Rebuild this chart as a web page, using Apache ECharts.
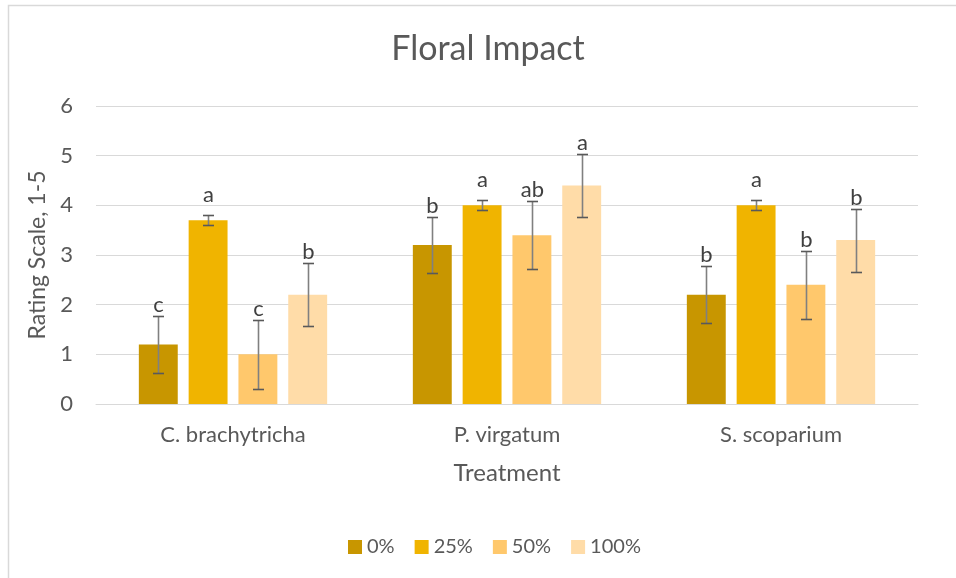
<!DOCTYPE html>
<html>
<head>
<meta charset="utf-8">
<script src="https://cdn.jsdelivr.net/npm/echarts@6/dist/echarts.min.js"></script>
<style>
  html, body { margin: 0; padding: 0; background: #ffffff; }
  #chart { width: 956px; height: 578px; }
</style>
</head>
<body>
<div id="chart"></div>
<script>
// Treatment groups along the x axis
const categories = ['C. brachytricha', 'P. virgatum', 'S. scoparium'];
const seriesNames = ['0%', '25%', '50%', '100%'];

// Mean ratings per group for each treatment level
const means0 = [1.2, 3.2, 2.2];
const means25 = [3.7, 4.0, 4.0];
const means50 = [1.0, 3.4, 2.4];
const means100 = [2.2, 4.4, 3.3];

// Error bar half-lengths
const err0 = [0.57, 0.57, 0.57];
const err25 = [0.1, 0.1, 0.1];
const err50 = [0.7, 0.69, 0.69];
const err100 = [0.635, 0.64, 0.635];

// Significance letters above each bar
const letters0 = ['c', 'b', 'b'];
const letters25 = ['a', 'a', 'a'];
const letters50 = ['c', 'ab', 'b'];
const letters100 = ['b', 'a', 'b'];

const yTicks = [0, 1, 2, 3, 4, 5, 6];

const colors = ['#C89600', '#F0B400', '#FFC86C', '#FFDCA8'];
const allMeans = [means0, means25, means50, means100];
const allErrs = [err0, err25, err50, err100];
const allLetters = [letters0, letters25, letters50, letters100];

const FONT = 'Lato, "Open Sans", sans-serif';
const TEXT = '#595959';
const BAR_FRAC = 0.142;  // bar width as share of the category band
const GAP_FRAC = 0.28;   // gap between bars as share of bar width

const chart = echarts.init(document.getElementById('chart'), null, { renderer: 'canvas' });

const barSeries = seriesNames.map((name, i) => ({
  name: name,
  type: 'bar',
  data: allMeans[i],
  barWidth: (BAR_FRAC * 100) + '%',
  barGap: (GAP_FRAC * 100) + '%',
  itemStyle: { color: colors[i] },
  emphasis: { disabled: true },
  z: 2
}));

// One record per bar: [category index, mean, error, series index]
const errData = [];
for (let s = 0; s < seriesNames.length; s++) {
  for (let c = 0; c < categories.length; c++) {
    errData.push([c, allMeans[s][c], allErrs[s][c], s]);
  }
}

function renderErr(params, api) {
  const ci = api.value(0);
  const m = api.value(1);
  const sd = api.value(2);
  const si = api.value(3);
  const band = api.size([1, 0])[0];
  const bw = band * BAR_FRAC;
  const pitch = bw * (1 + GAP_FRAC);
  const cx = Math.round(api.coord([ci, 0])[0] + (si - 1.5) * pitch) + 0.5;
  const yTop = Math.round(api.coord([ci, m + sd])[1]) + 0.5;
  const yBot = Math.round(api.coord([ci, m - sd])[1]) + 0.5;
  const yBar = api.coord([ci, m])[1];
  const cap = 5.5;
  const baseY = Math.min(yTop - 5, yBar - 19);
  return {
    type: 'group',
    children: [
      { type: 'line', shape: { x1: cx, y1: yTop, x2: cx, y2: yBot },
        style: { stroke: '#808080', lineWidth: 1.6 } },
      { type: 'line', shape: { x1: cx - cap, y1: yTop, x2: cx + cap, y2: yTop },
        style: { stroke: '#595959', lineWidth: 1.6 } },
      { type: 'line', shape: { x1: cx - cap, y1: yBot, x2: cx + cap, y2: yBot },
        style: { stroke: '#595959', lineWidth: 1.6 } },
      { type: 'text', x: cx, y: baseY + 4.5,
        style: { text: allLetters[si][ci], fill: '#404040', font: '22px ' + FONT,
                 textAlign: 'center', textVerticalAlign: 'bottom' } }
    ]
  };
}

const option = {
  backgroundColor: '#ffffff',
  animation: false,
  textStyle: { fontFamily: FONT },
  graphic: [
    { type: 'rect', shape: { x: 8.5, y: 5.5, width: 1000, height: 700 },
      style: { fill: 'none', stroke: '#d9d9d9', lineWidth: 1.5 }, silent: true },
    { type: 'text', x: 488, y: 49,
      style: { text: 'Floral Impact', fill: TEXT, font: '34px ' + FONT,
               textAlign: 'center', textVerticalAlign: 'middle' } }
  ],
  legend: {
    data: seriesNames,
    left: 343,
    top: 532,
    icon: 'rect',
    itemWidth: 14,
    itemHeight: 14,
    itemGap: 20,
    textStyle: { color: TEXT, fontSize: 20, fontFamily: FONT },
    selectedMode: false
  },
  grid: { left: 96, right: 38, top: 106, bottom: 174, containLabel: false },
  xAxis: {
    type: 'category',
    data: categories,
    name: 'Treatment',
    nameLocation: 'middle',
    nameGap: 69,
    nameTextStyle: { color: TEXT, fontSize: 24, fontFamily: FONT, verticalAlign: 'middle' },
    axisLine: { show: true, lineStyle: { color: '#d9d9d9', width: 1 } },
    axisTick: { show: false },
    axisLabel: { color: TEXT, fontSize: 22, fontFamily: FONT, margin: 20 }
  },
  yAxis: {
    type: 'value',
    min: yTicks[0],
    max: yTicks[yTicks.length - 1],
    interval: 1,
    name: 'Rating Scale, 1-5',
    nameLocation: 'middle',
    nameGap: 54,
    nameRotate: 90,
    nameTextStyle: { color: TEXT, fontSize: 23, fontFamily: FONT, verticalAlign: 'middle' },
    axisLine: { show: false },
    axisTick: { show: false },
    axisLabel: { color: TEXT, fontSize: 22, fontFamily: FONT, margin: 23 },
    splitLine: { lineStyle: { color: '#d9d9d9', width: 1 } }
  },
  series: barSeries.concat([{
    type: 'custom',
    name: 'errors',
    renderItem: renderErr,
    data: errData,
    encode: { x: 0, y: 1 },
    z: 5,
    silent: true
  }])
};

chart.setOption(option);
</script>
</body>
</html>
